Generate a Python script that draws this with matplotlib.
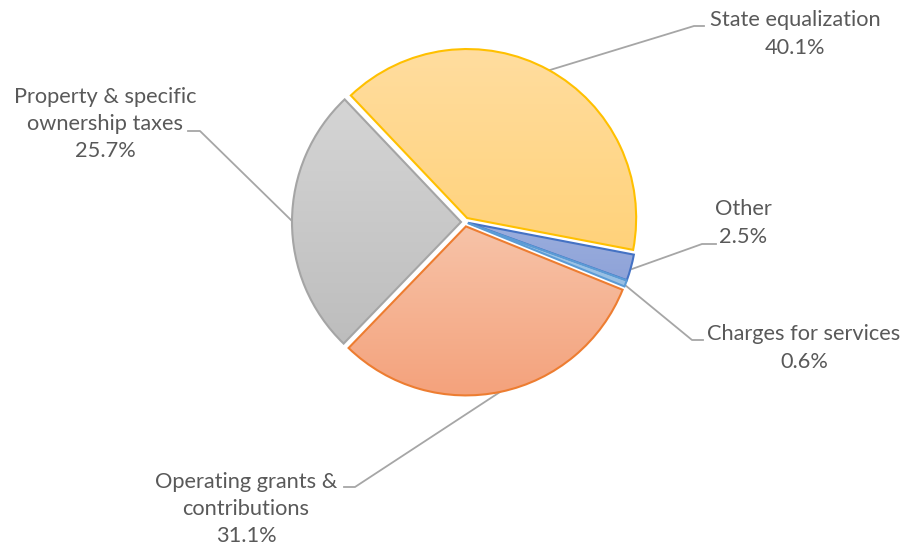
import numpy as np
import matplotlib
matplotlib.use('Agg')
import matplotlib.pyplot as plt
from matplotlib.colors import LinearSegmentedColormap

plt.rcParams['font.family'] = ['Lato', 'DejaVu Sans']

categorias = ['State equalization', 'Other', 'Charges for services',
              'Operating grants &\ncontributions', 'Property & specific\nownership taxes']
valores = [40.1, 2.5, 0.6, 31.1, 25.7]

# cores: (topo do gradiente, base do gradiente, borda)
cores_topo = ['#FFDD9F', '#9AAEDE', '#A3C8E9', '#F7C3A8', '#D5D5D5']
cores_base = ['#FFD27A', '#8FA3D8', '#97BFE4', '#F4A27C', '#BDBDBD']
cores_borda = ['#FFC000', '#4472C4', '#5B9BD5', '#ED7D31', '#A5A5A5']
# deslocamento de cada fatia (em pixels)
deslocamento = [4.5, 3.0, 3.0, 4.5, 4.0]

W, H = 906, 550
fig = plt.figure(figsize=(W / 100, H / 100), dpi=100)
ax = fig.add_axes([0, 0, 1, 1])
ax.set_xlim(0, W)
ax.set_ylim(0, H)
ax.set_aspect('equal')
ax.axis('off')

cx, cy, raio = 465, H - 222, 169
wedges, _ = ax.pie(valores, startangle=133.5, counterclock=False,
                   center=(cx, cy), radius=raio, explode=deslocamento,
                   wedgeprops=dict(linewidth=1.5))

# gradiente vertical em cada fatia
for w, c1, c2, cb in zip(wedges, cores_topo, cores_base, cores_borda):
    w.set_facecolor('none')
    w.set_edgecolor(cb)
    w.set_zorder(3)
    ext = w.get_path().get_extents()
    cmap = LinearSegmentedColormap.from_list('g', [c2, c1])
    grad = np.linspace(0, 1, 256).reshape(-1, 1)
    im = ax.imshow(grad, cmap=cmap, origin='lower', aspect='auto',
                   extent=[ext.x0, ext.x1, ext.y0, ext.y1], zorder=2)
    im.set_clip_path(w)
ax.set_xlim(0, W)
ax.set_ylim(0, H)

# rótulos com linhas de chamada
cor_linha = '#A6A6A6'
cor_texto = '#595959'
rotulos = [
    (795, 34, [(550, 70), (694, 26), (704, 26)]),
    (743, 223, [(632, 269), (702, 244), (716, 244)]),
    (804, 348, [(625, 285), (692, 340), (703, 340)]),
    (246, 509, [(500, 392), (355, 487), (344, 487)]),
    (105, 124, [(292, 221), (200, 131), (188, 131)]),
]
for cat, v, (tx, ty, pts) in zip(categorias, valores, rotulos):
    xs = [p[0] for p in pts]
    ys = [H - p[1] for p in pts]
    ax.plot(xs, ys, color=cor_linha, lw=1.3, zorder=1)
    ax.text(tx, H - ty, f'{cat}\n{v}%', ha='center', va='center',
            multialignment='center', fontsize=15.7, color=cor_texto,
            linespacing=1.45)

plt.savefig('out.png', dpi=100)
